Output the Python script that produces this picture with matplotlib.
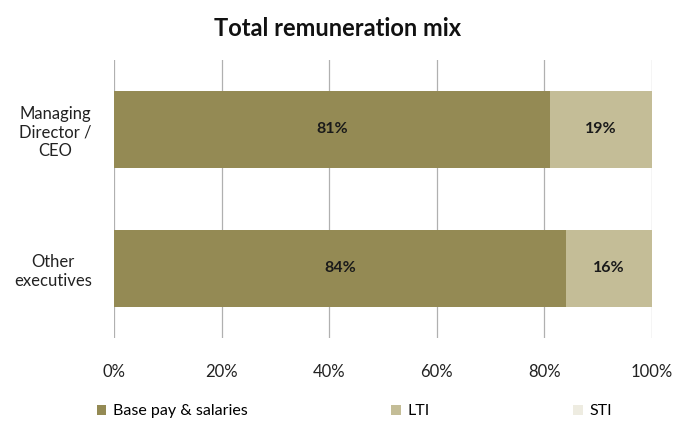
import numpy as np
import matplotlib.pyplot as plt
from matplotlib.ticker import PercentFormatter

plt.rcParams['font.family'] = ['Lato', 'DejaVu Sans']

# Data
categories = ["Managing\nDirector /\nCEO", "Other\nexecutives"]
series_names = ["Base pay & salaries", "LTI", "STI"]
base_pay = [81, 84]
lti = [19, 16]
sti = [0, 0]
colors = ["#948a54", "#c4bd97", "#eeece1"]

fig = plt.figure(figsize=(6.75, 4.22), dpi=100)
ax = fig.add_axes([0.169, 0.199, 0.797, 0.659])

y = np.arange(len(categories))
left = np.zeros(len(categories))
bars = []
for name, vals, col in zip(series_names, [base_pay, lti, sti], colors):
    b = ax.barh(y, vals, left=left, height=0.555, color=col, label=name, zorder=3)
    bars.append(b)
    for yi, l, v in zip(y, left, vals):
        if v > 0:
            ax.text(l + v / 2, yi, "%d%%" % v, ha="center", va="center",
                    fontsize=11.5, fontweight="bold", color="#1a1a1a", zorder=4)
    left = left + np.array(vals)

ax.set_xlim(0, 100)
ax.set_ylim(1.5, -0.5)
ax.set_xticks(np.arange(0, 101, 20))
ax.xaxis.set_major_formatter(PercentFormatter(decimals=0))
ax.set_yticks(y)
ax.set_yticklabels(categories, multialignment="center")
ax.tick_params(axis="x", length=0, pad=19, labelsize=12, colors="#222222")
ax.tick_params(axis="y", length=0, pad=16, labelsize=12, colors="#222222")
ax.grid(axis="x", color="#b0b0b0", linewidth=0.9, zorder=0)
for s in ax.spines.values():
    s.set_visible(False)

fig.text(0.5, 1 - 28 / 422, "Total remuneration mix", ha="center", va="center",
         fontsize=17, fontweight="bold", color="#111111")

fig.legend(handles=bars, labels=series_names, loc="center", ncol=3,
           bbox_to_anchor=(0.525, 0.025), frameon=False, fontsize=11.5,
           handlelength=0.6, handleheight=0.6, handletextpad=0.4,
           columnspacing=9.0)

fig.savefig("out.png", dpi=100)
